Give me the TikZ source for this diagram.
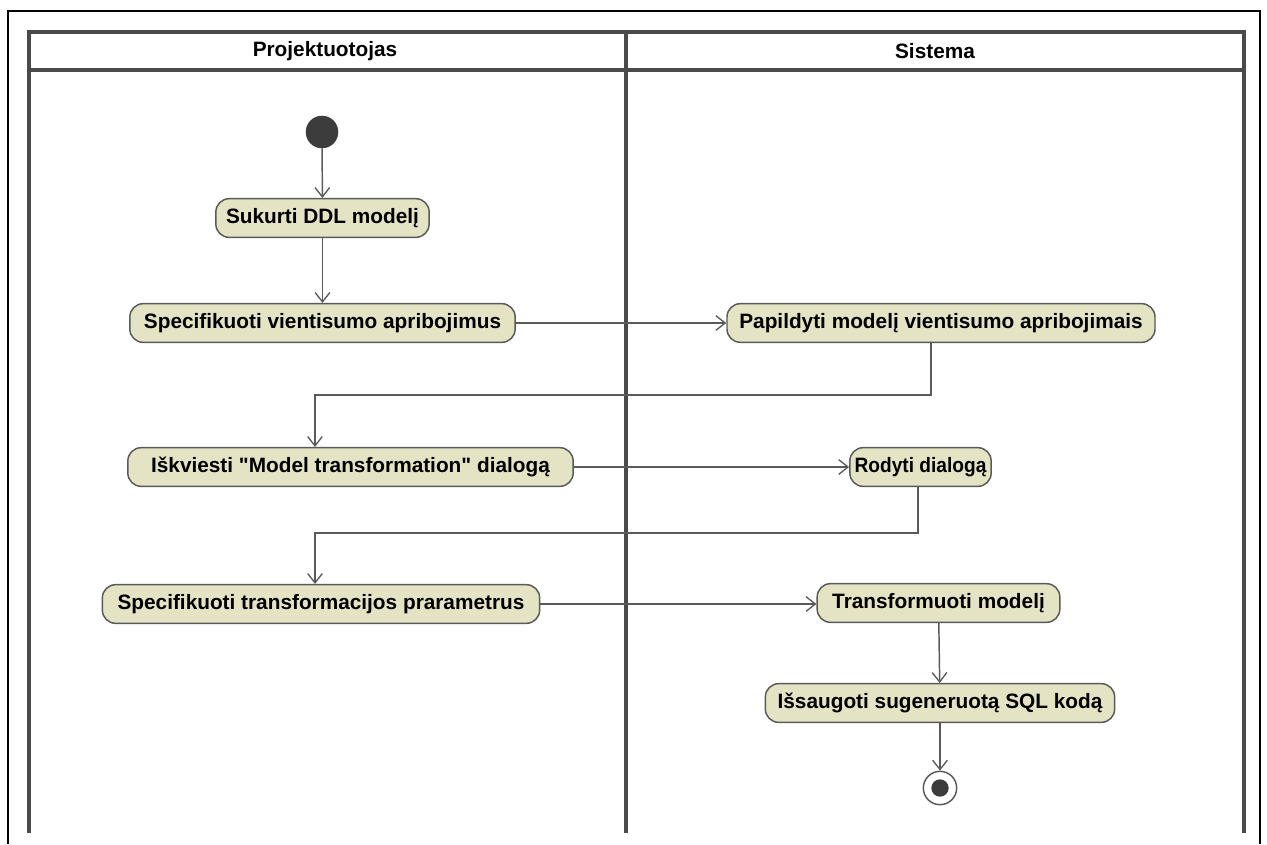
\documentclass[tikz,border=0pt]{standalone}
\usepackage{fontspec}
\setmainfont{Liberation Sans}
\usetikzlibrary{arrows.meta}
\definecolor{actfill}{HTML}{E4E3C3}
\definecolor{actline}{HTML}{5A5A5A}
\definecolor{laneline}{HTML}{4A4A4A}
\definecolor{dotfill}{HTML}{3C3C3C}
% straight double quote, taken directly from the font
\newcommand\straightdq{\XeTeXglyph\XeTeXcharglyph"22\relax}
\tikzset{
  activity/.style={draw=actline, line width=1.1pt, fill=actfill, rounded corners=10pt,
    minimum height=29pt, inner sep=0pt, font=\fontsize{15.6}{18}\selectfont\bfseries},
  flow/.style={draw=actline, line width=1.1pt, -{Straight Barb[length=7pt,width=11pt,line width=1pt]}},
  lane/.style={draw=laneline, line width=2.6pt},
  frame/.style={draw=black, line width=1.6pt},
  lanetitle/.style={font=\fontsize{15.6}{18}\selectfont\bfseries},
}
\begin{document}
\begin{tikzpicture}[x=0.75pt,y=-0.75pt]
  % canvas
  \path[fill=white,use as bounding box] (0,0) rectangle (1267,844);

  % outer frame (open at the bottom)
  \draw[frame] (8,844) -- (8,11) -- (1260,11) -- (1260,844);

  % swimlanes
  \draw[lane] (29,833) -- (29,32) -- (1244,32) -- (1244,833);
  \draw[lane] (29,70) -- (1244,70);
  \draw[lane] (626,32) -- (626,833);
  \node[lanetitle] (laneA) at (325,51) {Projektuotojas};
  \node[lanetitle] (laneB) at (935,51) {Sistema};

  % start and end
  \node[circle, fill=dotfill, draw=dotfill, minimum size=24pt, inner sep=0pt] (start) at (322,132) {};
  \node[circle, draw=actline, line width=1.1pt, fill=white, minimum size=25pt, inner sep=0pt] (end) at (940,788) {};
  \node[circle, fill=dotfill, minimum size=13pt, inner sep=0pt] (enddot) at (end.center) {};

  % activities
  \node[activity, minimum width=160pt] (a1) at (322.5,218) {Sukurti DDL modelį};
  \node[activity, minimum width=289pt] (a2) at (322.5,323) {Specifikuoti vientisumo apribojimus};
  \node[activity, minimum width=321pt] (b1) at (941,323) {Papildyti modelį vientisumo apribojimais};
  \node[activity, minimum width=334pt] (a3) at (350.5,467) {Iškviesti \straightdq Model transformation\straightdq\ dialogą};
  \node[activity, minimum width=106pt] (b2) at (920.5,467) {\scalebox{0.92}[1]{Rodyti dialogą}};
  \node[activity, minimum width=328pt] (a4) at (321,604) {Specifikuoti transformacijos prarametrus};
  \node[activity, minimum width=182pt] (b3) at (938.5,603) {Transformuoti modelį};
  \node[activity, minimum width=262pt] (b4) at (940,703) {Išsaugoti sugeneruotą SQL kodą};

  % bends of the returning flows
  \coordinate (k1) at (931,395);
  \coordinate (k2) at (315,395);
  \coordinate (k3) at (918,533);
  \coordinate (k4) at (315,533);

  % flows
  \draw[flow] (start) -- (a1);
  \draw[flow] (a1) -- (a2);
  \draw[flow] (a2) -- (b1);
  \draw[flow] (b1.south -| k1) -- (k1) -- (k2) -- (a3.north -| k2);
  \draw[flow] (a3) -- (b2);
  \draw[flow] (b2.south -| k3) -- (k3) -- (k4) -- (a4.north -| k4);
  \draw[flow] (a4.east) -- (b3.west |- a4.east);
  \draw[flow] (b3) -- (b4);
  \draw[flow] (b4) -- (end);
\end{tikzpicture}
\end{document}
